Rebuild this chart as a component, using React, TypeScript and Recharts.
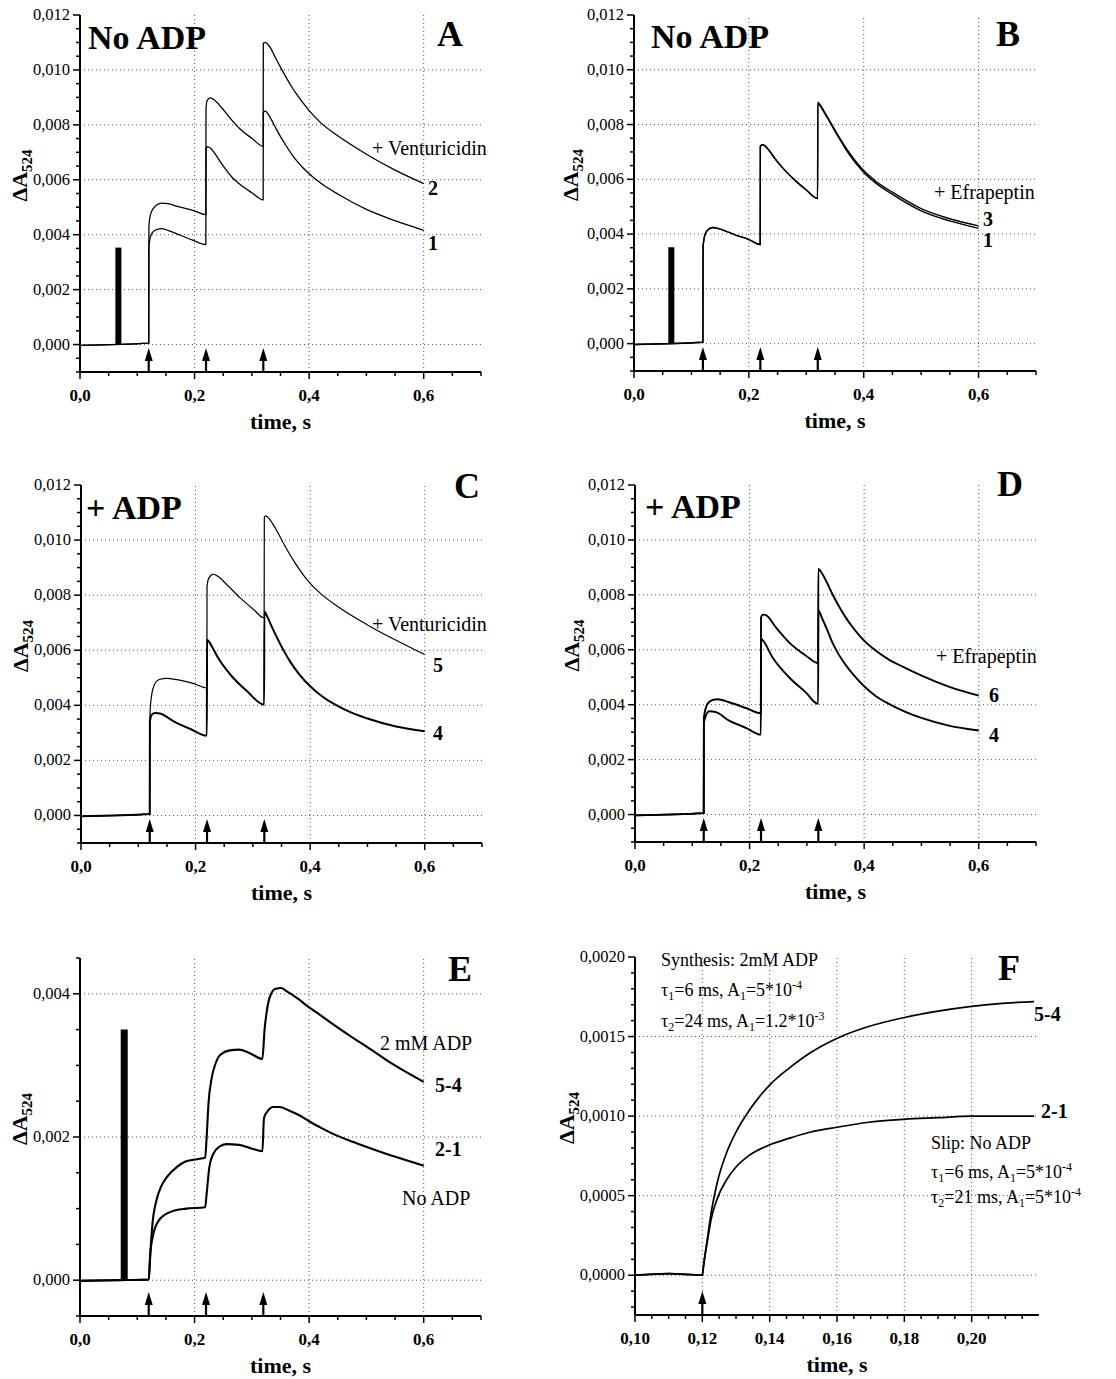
import React from 'react';
import { LineChart, Line, XAxis, YAxis, ReferenceLine, ReferenceDot } from 'recharts';

type Pt = [number, number];

const FONT = '"Liberation Serif", "Times New Roman", serif';

// flash / arrow times (s)
const arrowTimes = [0.12, 0.22, 0.32];
const arrowTimesF = [0.12];

// panel A: No ADP, 1 = control, 2 = + venturicidin
const curveA1: Pt[] = [
  [0, -0.00003], [0.12, 0.00005], [0.1203, 0.00355], [0.1238, 0.00398], [0.131, 0.00416], [0.142, 0.00422],
  [0.1534, 0.00416], [0.1753, 0.00398], [0.197, 0.0038], [0.2197, 0.00364], [0.22, 0.00707], [0.2219, 0.00721],
  [0.2274, 0.00716], [0.235, 0.00697], [0.245, 0.00665], [0.255, 0.00636], [0.265, 0.0061], [0.28, 0.00582],
  [0.3, 0.00553], [0.3197, 0.00527], [0.32, 0.00846], [0.3235, 0.0085], [0.33, 0.00834], [0.34, 0.00795],
  [0.35, 0.00757], [0.36, 0.00723], [0.37, 0.00692], [0.38, 0.00665], [0.39, 0.00642], [0.4, 0.00622],
  [0.42, 0.00588], [0.45, 0.00548], [0.5, 0.00492], [0.55, 0.00451], [0.6, 0.00416],
];
const curveA2: Pt[] = [
  [0, -0.00003], [0.12, 0.00005], [0.1203, 0.0043], [0.1233, 0.00476], [0.1315, 0.00504], [0.1425, 0.00515],
  [0.1534, 0.00513], [0.17, 0.00503], [0.197, 0.00489], [0.2197, 0.00473], [0.22, 0.0086], [0.2219, 0.00888],
  [0.2274, 0.00898], [0.2329, 0.00893], [0.2466, 0.00864], [0.263, 0.00822], [0.2795, 0.00785], [0.3, 0.00751],
  [0.3197, 0.00722], [0.32, 0.01097], [0.3235, 0.011], [0.33, 0.01088], [0.34, 0.0105], [0.35, 0.0101],
  [0.36, 0.00972], [0.37, 0.00937], [0.38, 0.00906], [0.39, 0.00878], [0.4, 0.00852], [0.42, 0.00808],
  [0.45, 0.0076], [0.5, 0.00693], [0.55, 0.00635], [0.6, 0.00586],
];

// panel B: No ADP, 1 = control, 3 = + efrapeptin
const curveB1: Pt[] = [
  [0, -0.00003], [0.12, 0.00005], [0.1203, 0.00355], [0.124, 0.004], [0.13, 0.00418], [0.1375, 0.00424],
  [0.15, 0.00418], [0.175, 0.00398], [0.2, 0.0038], [0.2197, 0.00362], [0.22, 0.0072], [0.2235, 0.00726],
  [0.228, 0.00722], [0.235, 0.00706], [0.245, 0.00677], [0.255, 0.00651], [0.265, 0.00628], [0.28, 0.00597],
  [0.3, 0.00561], [0.3197, 0.0053], [0.32, 0.00878], [0.3235, 0.0087], [0.33, 0.00848], [0.34, 0.00812],
  [0.35, 0.00775], [0.36, 0.0074], [0.37, 0.00706], [0.38, 0.00676], [0.39, 0.00649], [0.4, 0.00625],
  [0.42, 0.00588], [0.45, 0.00545], [0.5, 0.00485], [0.55, 0.00448], [0.6, 0.00421],
];
const curveB3: Pt[] = [
  [0, -0.00003], [0.12, 0.00005], [0.1203, 0.00355], [0.124, 0.004], [0.13, 0.00418], [0.1375, 0.00424],
  [0.15, 0.00418], [0.175, 0.00398], [0.2, 0.0038], [0.2197, 0.00362], [0.22, 0.0072], [0.2235, 0.00726],
  [0.228, 0.00722], [0.235, 0.00706], [0.245, 0.00677], [0.255, 0.00651], [0.265, 0.00628], [0.28, 0.00597],
  [0.3, 0.00561], [0.3197, 0.0053], [0.32, 0.00882], [0.3235, 0.00874], [0.33, 0.00852], [0.34, 0.00816],
  [0.35, 0.0078], [0.36, 0.00745], [0.37, 0.00712], [0.38, 0.00683], [0.39, 0.00656], [0.4, 0.00632],
  [0.42, 0.00595], [0.45, 0.00553], [0.5, 0.00493], [0.55, 0.00456], [0.6, 0.0043],
];

// panel C: + ADP, 4 = control, 5 = + venturicidin
const curveC4: Pt[] = [
  [0, -0.00003], [0.12, 0.00005], [0.1203, 0.00342], [0.1235, 0.00366], [0.1293, 0.00372], [0.138, 0.0037],
  [0.1619, 0.00342], [0.191, 0.00314], [0.2197, 0.0029], [0.22, 0.00638], [0.2231, 0.00632], [0.23, 0.00608],
  [0.2377, 0.00578], [0.2609, 0.00511], [0.29, 0.00451], [0.3197, 0.00402], [0.32, 0.00741], [0.325, 0.00723],
  [0.333, 0.00686], [0.3426, 0.00644], [0.355, 0.00594], [0.366, 0.00556], [0.38, 0.00515], [0.4, 0.00469],
  [0.42, 0.00434], [0.4415, 0.00405], [0.47, 0.00375], [0.5, 0.00352], [0.55, 0.00323], [0.6, 0.00306],
];
const curveC5: Pt[] = [
  [0, -0.00003], [0.12, 0.00005], [0.1203, 0.0036], [0.1223, 0.0042], [0.127, 0.00469], [0.1357, 0.00493],
  [0.15, 0.00498], [0.1678, 0.00493], [0.1969, 0.00479], [0.2197, 0.00463], [0.22, 0.00831], [0.2231, 0.00862],
  [0.2307, 0.00876], [0.2377, 0.0087], [0.2551, 0.00837], [0.2784, 0.00789], [0.3017, 0.00747], [0.3197, 0.00717],
  [0.32, 0.01083], [0.3221, 0.01088], [0.328, 0.01079], [0.335, 0.01058], [0.3426, 0.01031], [0.35, 0.01002],
  [0.36, 0.00964], [0.37, 0.00929], [0.38, 0.00897], [0.39, 0.00868], [0.4, 0.00843], [0.42, 0.00803],
  [0.45, 0.00756], [0.5, 0.00692], [0.55, 0.00636], [0.6, 0.00584],
];

// panel D: + ADP, 4 = control, 6 = + efrapeptin
const curveD4: Pt[] = [
  [0, -0.00003], [0.12, 0.00005], [0.1203, 0.00336], [0.1295, 0.00376], [0.1411, 0.00373], [0.1643, 0.00342],
  [0.1934, 0.00316], [0.2197, 0.00291], [0.22, 0.0064], [0.2236, 0.00633], [0.2399, 0.00573], [0.2689, 0.005],
  [0.298, 0.00445], [0.3197, 0.00403], [0.32, 0.00743], [0.3271, 0.00712], [0.335, 0.00675], [0.3445, 0.00627],
  [0.355, 0.00585], [0.3677, 0.00545], [0.38, 0.00512], [0.4, 0.00467], [0.42, 0.00432], [0.4432, 0.00403],
  [0.47, 0.00376], [0.5013, 0.00351], [0.5477, 0.00324], [0.6, 0.00306],
];
const curveD6: Pt[] = [
  [0, -0.00003], [0.12, 0.00005], [0.1203, 0.00354], [0.1266, 0.00403], [0.1353, 0.00417], [0.144, 0.0042],
  [0.1643, 0.00409], [0.1934, 0.00388], [0.2197, 0.00369], [0.22, 0.00718], [0.2236, 0.00728], [0.2294, 0.00725],
  [0.2457, 0.00682], [0.2689, 0.00627], [0.298, 0.00579], [0.3197, 0.00551], [0.32, 0.00894], [0.3271, 0.00876],
  [0.335, 0.00845], [0.3445, 0.00803], [0.355, 0.00762], [0.3677, 0.00718], [0.38, 0.00682], [0.39, 0.00656],
  [0.4, 0.00633], [0.42, 0.00597], [0.4432, 0.00564], [0.47, 0.00536], [0.5013, 0.00505], [0.5477, 0.00466],
  [0.6, 0.00433],
];

// panel E: difference traces
const curveE54: Pt[] = [
  [0, -0.00001], [0.06, 0], [0.12, 0.00001], [0.1227, 0.00037], [0.1265, 0.00079], [0.1336, 0.00112],
  [0.1417, 0.00131], [0.1526, 0.00145], [0.1689, 0.00158], [0.1852, 0.00166], [0.2042, 0.00169], [0.2185, 0.00171],
  [0.2211, 0.002], [0.2243, 0.00247], [0.2298, 0.00282], [0.2368, 0.00303], [0.245, 0.00315], [0.2613, 0.00321],
  [0.2776, 0.00322], [0.2966, 0.00317], [0.3184, 0.00309], [0.3222, 0.0035], [0.3265, 0.00378], [0.333, 0.00399],
  [0.3417, 0.00407], [0.351, 0.00408], [0.3618, 0.00403], [0.3809, 0.00393], [0.4, 0.00381], [0.42, 0.0037],
  [0.4427, 0.00357], [0.47, 0.00342], [0.501, 0.00326], [0.5476, 0.00301], [0.6, 0.00277],
];
const curveE21: Pt[] = [
  [0, -0.00001], [0.06, 0], [0.12, 0.00001], [0.1227, 0.00037], [0.1282, 0.00065], [0.1363, 0.00082],
  [0.1472, 0.00091], [0.1635, 0.00097], [0.1852, 0.001], [0.2185, 0.00102], [0.2211, 0.00121], [0.226, 0.00159],
  [0.2331, 0.00177], [0.2423, 0.00186], [0.2559, 0.0019], [0.2776, 0.00189], [0.2993, 0.00184], [0.3184, 0.0018],
  [0.3211, 0.00226], [0.3265, 0.00235], [0.3374, 0.00242], [0.3483, 0.00242], [0.3646, 0.00237], [0.3809, 0.00231],
  [0.4, 0.00222], [0.42, 0.00213], [0.4427, 0.00204], [0.47, 0.00195], [0.501, 0.00186], [0.5476, 0.00173],
  [0.6, 0.0016],
];

// panel F: first flash, expanded
const curveF54: Pt[] = [
  [0.1, 0], [0.11, 0.00001], [0.12, 0], [0.1203, 0.00005], [0.1217, 0.00026], [0.1226, 0.00039],
  [0.1244, 0.00058], [0.1272, 0.00077], [0.13, 0.0009], [0.1328, 0.001], [0.1365, 0.00111], [0.1402, 0.0012],
  [0.1457, 0.0013], [0.1522, 0.0014], [0.1601, 0.00149], [0.1689, 0.00156], [0.18, 0.00162], [0.19, 0.00166],
  [0.2, 0.00169], [0.21, 0.00171], [0.2185, 0.00172],
];
const curveF21: Pt[] = [
  [0.1, 0], [0.11, 0.00001], [0.12, 0], [0.1203, 0.00005], [0.1217, 0.00024], [0.1226, 0.00035],
  [0.1244, 0.00048], [0.1272, 0.0006], [0.13, 0.00068], [0.1337, 0.00075], [0.14, 0.00082], [0.1457, 0.00086],
  [0.1522, 0.0009], [0.1601, 0.00093], [0.1689, 0.00096], [0.18, 0.00098], [0.19, 0.00099], [0.2, 0.001],
  [0.2185, 0.001],
];

const gridTimes = [0.2, 0.4, 0.6];
const gridTimesF = [0.12, 0.14, 0.16, 0.18, 0.2];
const gridLevels = [0, 0.002, 0.004, 0.006, 0.008, 0.01];
const gridLevelsE = [0, 0.002, 0.004];
const gridLevelsF = [0, 0.0005, 0.001, 0.0015];

function steps(from: number, to: number, step: number) {
  const out: number[] = [];
  const n = Math.round((to - from) / step);
  for (let i = 0; i <= n; i++) out.push(Math.round((from + i * step) * 1e7) / 1e7);
  return out;
}

const isMajor = (v: number, m: number) => Math.abs(v / m - Math.round(v / m)) < 1e-6;
const comma = (v: number, d: number) => v.toFixed(d).replace('.', ',');

const YW = 90; // room left of each plot for ticks + axis title

interface Series { pts: Pt[]; w: number }
interface PanelProps {
  box: { x: number; y: number; w: number; h: number };
  xDomain: [number, number];
  yDomain: [number, number];
  xTicks: number[];
  yTicks: number[];
  xMajor: number;
  yMajor: number;
  xDec: number;
  yDec: number;
  xGrid: number[];
  yGrid: number[];
  series: Series[];
  arrows: number[];
  bar?: { t: number; top: number; w: number };
  yLabelDx?: number;
}

function Arrow(props: any) {
  const { cx, cy } = props;
  return (
    <g>
      <line x1={cx} x2={cx} y1={cy} y2={cy - 14} stroke="#000" strokeWidth={2.2} />
      <path d={`M${cx - 4},${cy - 11} L${cx},${cy - 24} L${cx + 4},${cy - 11} Z`} fill="#000" />
    </g>
  );
}

function Panel(p: PanelProps) {
  const W = p.box.w + YW + 20;
  const H = p.box.h + 85;
  const yTick = (t: any) => {
    const v = t.payload.value;
    const major = isMajor(v, p.yMajor);
    return (
      <g>
        <line x1={t.x} x2={t.x - (major ? 7 : 4)} y1={t.y} y2={t.y} stroke="#000" strokeWidth={1.5} />
        {major && (
          <text x={t.x - 10} y={t.y + 5} textAnchor="end" fontFamily={FONT} fontSize={16.5} fill="#000">
            {comma(v, p.yDec)}
          </text>
        )}
      </g>
    );
  };
  const xTick = (t: any) => {
    const v = t.payload.value;
    const major = isMajor(v, p.xMajor);
    return (
      <g>
        <line x1={t.x} x2={t.x} y1={t.y} y2={t.y + (major ? 7 : 4)} stroke="#000" strokeWidth={1.5} />
        {major && (
          <text x={t.x} y={t.y + 29} textAnchor="middle" fontFamily={FONT} fontWeight="bold" fontSize={17} fill="#000">
            {comma(v, p.xDec)}
          </text>
        )}
      </g>
    );
  };
  const xLabel = (lp: any) => {
    const vb = lp.viewBox;
    return (
      <text x={vb.x + vb.width / 2} y={vb.y + 57} textAnchor="middle" fontFamily={FONT} fontWeight="bold" fontSize={22} fill="#000">
        time, s
      </text>
    );
  };
  const yLabel = (lp: any) => {
    const vb = lp.viewBox;
    const cx = vb.x + vb.width + (p.yLabelDx ?? -53);
    const cy = vb.y + vb.height / 2 - 18;
    return (
      <text x={cx} y={cy} transform={`rotate(-90 ${cx} ${cy})`} textAnchor="middle" fontFamily={FONT} fontWeight="bold" fontSize={22} fill="#000">
        <tspan>ΔA</tspan>
        <tspan fontSize={15} dy={5}>524</tspan>
      </text>
    );
  };
  return (
    <div style={{ position: 'absolute', left: p.box.x - YW, top: p.box.y - 15, width: W, height: H }}>
      <LineChart width={W} height={H} margin={{ top: 15, right: 20, bottom: 0, left: 0 }}>
        <XAxis
          type="number"
          dataKey="t"
          domain={p.xDomain}
          ticks={p.xTicks}
          interval={0}
          height={70}
          tickSize={0}
          tickMargin={0}
          tick={xTick}
          axisLine={{ stroke: '#000', strokeWidth: 2 }}
          label={xLabel}
        />
        <YAxis
          type="number"
          domain={p.yDomain}
          ticks={p.yTicks}
          interval={0}
          width={YW}
          tickSize={0}
          tickMargin={0}
          tick={yTick}
          axisLine={{ stroke: '#000', strokeWidth: 2 }}
          label={yLabel}
        />
        {p.xGrid.map((g) => (
          <ReferenceLine key={'gx' + g} x={g} stroke="#555" strokeWidth={1} strokeDasharray="1 3" />
        ))}
        {p.yGrid.map((g) => (
          <ReferenceLine key={'gy' + g} y={g} stroke="#555" strokeWidth={1} strokeDasharray="1 3" />
        ))}
        {p.bar && (
          <ReferenceLine
            segment={[{ x: p.bar.t, y: 0 }, { x: p.bar.t, y: p.bar.top }]}
            stroke="#000"
            strokeWidth={p.bar.w}
          />
        )}
        {p.series.map((s, i) => (
          <Line
            key={i}
            data={s.pts.map(([t, v]) => ({ t, v }))}
            dataKey="v"
            type="monotone"
            dot={false}
            stroke="#000"
            strokeWidth={s.w}
            isAnimationActive={false}
          />
        ))}
        {p.arrows.map((a) => (
          <ReferenceDot key={'ar' + a} x={a} y={p.yDomain[0]} r={0} ifOverflow="visible" shape={Arrow} />
        ))}
      </LineChart>
    </div>
  );
}

function Tau({ x, y, i, ms, a }: { x: number; y: number; i: string; ms: string; a: string[] }) {
  return (
    <text x={x} y={y} fontFamily={FONT} fontSize={18} fill="#000">
      τ<tspan fontSize={12} dy={4}>{i}</tspan>
      <tspan dy={-4}>{`=${ms} ms, A`}</tspan>
      <tspan fontSize={12} dy={4}>1</tspan>
      <tspan dy={-4}>{`=${a[0]}`}</tspan>
      <tspan fontSize={12} dy={-7}>{a[1]}</tspan>
    </text>
  );
}

export default function App() {
  const xTicks = steps(0, 0.7, 0.05);
  const yTicks = steps(-0.001, 0.012, 0.0005);
  const common = {
    xDomain: [0, 0.7] as [number, number],
    yDomain: [-0.001, 0.012] as [number, number],
    xTicks,
    yTicks,
    xMajor: 0.2,
    yMajor: 0.002,
    xDec: 1,
    yDec: 3,
    xGrid: gridTimes,
    yGrid: gridLevels,
    arrows: arrowTimes,
  };
  const big = { fontFamily: FONT, fontWeight: 'bold' as const, fontSize: 34, fill: '#000' };
  const letter = { fontFamily: FONT, fontWeight: 'bold' as const, fontSize: 36, fill: '#000' };
  const ann = { fontFamily: FONT, fontSize: 20, fill: '#000' };
  const num = { fontFamily: FONT, fontWeight: 'bold' as const, fontSize: 20, fill: '#000' };
  return (
    <div style={{ position: 'absolute', left: 0, top: 0, width: 1116, height: 1379, background: '#fff', overflow: 'hidden' }}>
      <Panel {...common} box={{ x: 80, y: 15, w: 401, h: 357 }}
        series={[{ pts: curveA1, w: 1.3 }, { pts: curveA2, w: 1.3 }]}
        bar={{ t: 0.067, top: 0.00353, w: 6 }} />
      <Panel {...common} box={{ x: 634, y: 15, w: 402, h: 356 }}
        series={[{ pts: curveB1, w: 1.4 }, { pts: curveB3, w: 1.4 }]}
        bar={{ t: 0.065, top: 0.00352, w: 6 }} yLabelDx={-56} />
      <Panel {...common} box={{ x: 81, y: 485, w: 401, h: 358 }}
        series={[{ pts: curveC5, w: 1.2 }, { pts: curveC4, w: 2 }]} />
      <Panel {...common} box={{ x: 635, y: 485, w: 401, h: 357 }}
        series={[{ pts: curveD6, w: 1.9 }, { pts: curveD4, w: 1.9 }]} yLabelDx={-56} />
      <Panel {...common} box={{ x: 80, y: 958, w: 401, h: 358 }}
        yDomain={[-0.0005, 0.0045]} yTicks={steps(-0.0005, 0.0045, 0.0005)} yGrid={gridLevelsE}
        series={[{ pts: curveE54, w: 2.1 }, { pts: curveE21, w: 2.1 }]}
        bar={{ t: 0.0772, top: 0.0035, w: 7 }} />
      <Panel {...common} box={{ x: 635, y: 957, w: 404, h: 358 }}
        xDomain={[0.1, 0.22]} xTicks={steps(0.1, 0.215, 0.005)} xMajor={0.02} xDec={2}
        yDomain={[-0.00025, 0.002]} yTicks={steps(-0.0002, 0.002, 0.0001)} yMajor={0.0005} yDec={4}
        xGrid={gridTimesF} yGrid={gridLevelsF} arrows={arrowTimesF}
        series={[{ pts: curveF54, w: 1.7 }, { pts: curveF21, w: 1.7 }]} yLabelDx={-61} />

      <svg width={1116} height={1379} style={{ position: 'absolute', left: 0, top: 0, pointerEvents: 'none' }}>
        {/* A */}
        <text x={88} y={49} {...big}>No ADP</text>
        <text x={437} y={46} {...letter}>A</text>
        <text x={372} y={155} {...ann}>+ Venturicidin</text>
        <text x={428} y={195} {...num}>2</text>
        <text x={428} y={250} {...num}>1</text>
        {/* B */}
        <text x={651} y={48} {...big}>No ADP</text>
        <text x={996} y={46} {...letter}>B</text>
        <text x={934} y={199} {...ann}>+ Efrapeptin</text>
        <text x={983} y={226} {...num}>3</text>
        <text x={983} y={247} {...num}>1</text>
        {/* C */}
        <text x={86} y={519} {...big}>+ ADP</text>
        <text x={454} y={498} {...letter}>C</text>
        <text x={372} y={631} {...ann}>+ Venturicidin</text>
        <text x={433} y={672} {...num}>5</text>
        <text x={433} y={740} {...num}>4</text>
        {/* D */}
        <text x={645} y={518} {...big}>+ ADP</text>
        <text x={997} y={496} {...letter}>D</text>
        <text x={936} y={663} {...ann}>+ Efrapeptin</text>
        <text x={989} y={702} {...num}>6</text>
        <text x={989} y={742} {...num}>4</text>
        {/* E */}
        <text x={448} y={981} {...letter}>E</text>
        <text x={380} y={1050} {...ann}>2 mM ADP</text>
        <text x={435} y={1092} {...num}>5-4</text>
        <text x={435} y={1156} {...num}>2-1</text>
        <text x={402} y={1205} {...ann}>No ADP</text>
        {/* F */}
        <text x={998} y={980} {...letter}>F</text>
        <text x={661} y={966} fontFamily={FONT} fontSize={18} fill="#000">Synthesis: 2mM ADP</text>
        <Tau x={661} y={996} i="1" ms="6" a={['5*10', '-4']} />
        <Tau x={661} y={1027} i="2" ms="24" a={['1.2*10', '-3']} />
        <text x={1034} y={1021} {...num}>5-4</text>
        <text x={1041} y={1118} {...num}>2-1</text>
        <text x={931} y={1149} fontFamily={FONT} fontSize={18} fill="#000">Slip: No ADP</text>
        <Tau x={931} y={1178} i="1" ms="6" a={['5*10', '-4']} />
        <Tau x={931} y={1203} i="2" ms="21" a={['5*10', '-4']} />
      </svg>
    </div>
  );
}
